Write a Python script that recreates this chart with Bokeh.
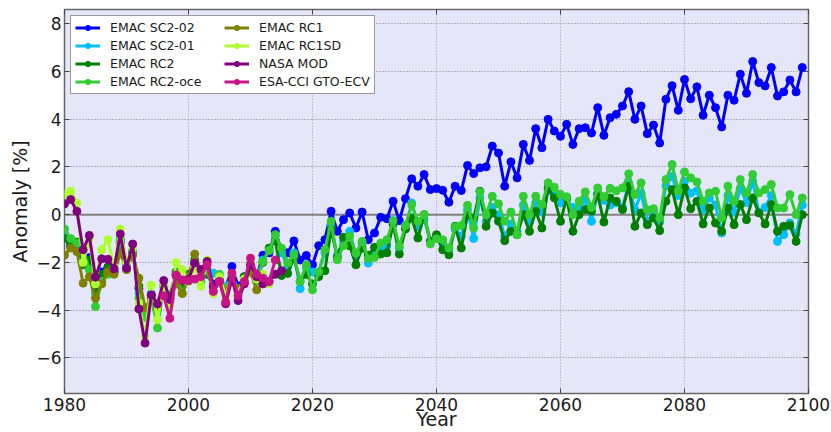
from bokeh.plotting import figure
from bokeh.models import (Legend, LegendItem, Span, LinearAxis, FixedTicker,
                          Range1d, ColumnDataSource)
from bokeh.embed import file_html
from bokeh.resources import INLINE

# ---------------- data ----------------
years = list(range(1980, 2100))

sc2_02 = [-0.9, -1.3, -1.3, -2.0, -1.8, -3.0, -2.4, -2.2, -2.4, -1.1,
          -2.0, -1.5, -3.1, -4.1, -3.4, -3.8, -3.0, -3.5, -2.5, -2.8,
          -2.6, -2.0, -2.5, -2.4, -2.9, -2.6, -3.1, -2.17, -3.0, -2.6,
          -2.3, -2.6, -1.7, -1.6, -0.7, -1.5, -1.6, -1.1, -1.9, -1.71,
          -2.10, -1.30, -1.05, 0.14, -0.70, -0.21, 0.07, -0.56, 0.11, -1.05,
          -0.77, -0.11, -0.17, 0.56, -0.25, 0.67, 1.50, 1.19, 1.68, 1.05,
          1.09, 1.02, 0.52, 1.19, 1.01, 2.06, 1.72, 1.96, 2.00, 2.87,
          2.58, 1.19, 2.21, 1.54, 2.94, 2.27, 3.60, 2.80, 3.99, 3.50,
          3.28, 3.78, 2.94, 3.60, 3.64, 3.42, 4.48, 3.32, 4.06, 4.20,
          4.55, 5.15, 3.99, 4.55, 3.39, 3.75, 3.00, 4.83, 5.40, 4.37,
          5.66, 4.85, 5.35, 4.16, 5.00, 4.48, 3.67, 5.00, 4.79, 5.88,
          5.08, 6.41, 5.53, 5.39, 6.16, 4.97, 5.14, 5.64, 5.14, 6.16]

sc2_01 = [-0.8, -1.2, -1.2, -2.0, -2.0, -3.3, -2.6, -2.3, -2.4, -1.1,
          -2.1, -1.5, -3.3, -4.3, -3.3, -4.0, -3.0, -3.6, -2.4, -3.0,
          -2.6, -2.0, -2.6, -2.3, -2.45, -2.7, -3.0, -2.6, -3.1, -2.7,
          -2.3, -2.6, -1.9, -1.5, -0.9, -1.6, -2.2, -1.6, -3.1, -2.2,
          -2.4, -2.4, -1.6, -0.5, -1.7, -1.1, -0.7, -1.7, -1.2, -2.03,
          -1.7, -1.4, -1.3, -0.4, -1.4, -0.5, 0.49, -0.5, -0.2, -1.1,
          -0.9, -1.2, -1.5, -0.6, -0.9, 0.2, -1.0, 0.7, -0.3, 0.3,
          0.0, -0.9, -0.4, -0.7, 0.4, -0.3, 0.5, 0.1, 1.0, 0.8,
          0.5, 0.6, 0.3, 0.3, 0.6, -0.28, 0.9, 0.6, 0.4, 0.5,
          0.3, 1.3, 0.2, 0.9, -0.3, 0.1, -0.3, 1.2, 1.6, 0.8,
          1.4, 0.9, 1.0, 0.2, 0.7, 0.4, -0.77, 0.8, 0.1, 1.1,
          0.5, 1.4, 0.1, 0.3, 0.8, -1.12, -0.84, -0.35, -0.8, 0.4]

rc2 = [-1.0, -1.26, -1.15, -2.1, -1.9, -3.1, -2.5, -2.2, -2.4, -1.2,
       -2.0, -1.6, -3.0, -4.2, -3.4, -3.9, -3.0, -3.4, -2.4, -2.9,
       -2.5, -1.9, -2.4, -2.5, -3.0, -2.6, -3.2, -2.7, -3.2, -2.6,
       -2.4, -2.7, -2.0, -1.4, -1.1, -2.55, -2.46, -1.8, -2.8, -2.5,
       -2.9, -2.6, -2.35, -0.6, -1.8, -0.95, -1.3, -2.1, -1.4, -1.7,
       -1.37, -1.65, -1.6, -0.4, -1.65, -0.6, -0.14, -0.98, 0.0, -1.12,
       -0.84, -1.47, -1.68, -0.49, -1.40, 0.0, -0.14, 0.98, -0.49, 0.07,
       -0.28, -1.09, -0.70, -0.84, 0.0, -0.70, 0.14, -0.56, 1.12, 0.70,
       -0.28, 0.70, -0.70, 0.0, 0.21, 0.14, 0.84, -0.31, 0.70, 0.56,
       0.21, 1.19, -0.49, 0.07, -0.42, -0.14, -0.67, 0.56, 1.05, 0.0,
       1.12, 0.25, 0.56, -0.39, 0.28, -0.35, -0.70, 0.28, -0.42, 0.42,
       -0.21, 0.70, 0.07, -0.39, 0.42, -0.70, -0.49, -0.45, -1.12, 0.0]

rc2_oce = [-0.6, -1.0, -1.2, -1.5, -2.3, -3.85, -2.8, -2.5, -2.3, -1.0,
           -2.3, -1.5, -3.5, -4.3, -3.5, -4.75, -3.0, -3.7, -2.5, -3.3,
           -2.6, -2.0, -2.8, -2.3, -3.2, -2.5, -3.1, -2.8, -3.3, -2.7,
           -2.2, -2.8, -1.96, -1.5, -0.84, -1.4, -2.03, -1.68, -2.8, -2.1,
           -3.15, -2.4, -1.47, -0.28, -1.89, -1.3, -0.91, -1.61, -1.12, -1.85,
           -1.79, -1.19, -1.05, -0.25, -1.33, -0.45, 0.42, -0.28, 0.0, -1.23,
           -1.01, -1.05, -1.40, -0.52, -0.45, 0.39, -0.56, 0.95, 0.0, 0.77,
           0.45, -0.28, 0.11, -0.84, 0.77, 0.0, 0.77, 0.42, 1.33, 1.15,
           0.85, 0.75, 0.0, 0.56, 0.95, 0.3, 1.12, 0.75, 1.1, 1.0,
           1.12, 1.71, 0.84, 1.33, 0.2, 0.25, -0.15, 1.47, 2.10, 1.0,
           1.79, 1.54, 1.37, 0.56, 0.91, 0.98, -0.14, 1.19, 0.56, 1.47,
           0.91, 1.68, 0.91, 1.05, 1.26, 0.28, 0.28, 0.84, 0.0, 0.70]

rc1_years = list(range(1980, 2012))
rc1 = [-1.7, -1.4, -1.55, -2.87, -2.6, -3.5, -2.9, -2.4, -2.5, -1.6,
       -2.3, -1.7, -2.66, -3.9, -3.5, -3.9, -3.3, -3.5, -2.9, -3.3,
       -2.6, -1.65, -2.4, -2.0, -3.0, -2.7, -3.2, -2.7, -3.1, -2.8,
       -2.4, -3.15]

rc1sd_years = list(range(1980, 2014))
rc1sd = [0.84, 0.99, 0.49, -2.0, -1.0, -2.9, -1.47, -1.05, -2.2, -0.6,
         -2.0, -1.4, -3.7, -5.1, -2.95, -4.4, -3.0, -3.8, -2.0, -2.3,
         -2.8, -2.2, -3.0, -1.9, -3.3, -2.6, -3.4, -2.6, -3.3, -2.7,
         -2.0, -2.7, -2.5, -2.9]

nasa_years = list(range(1980, 2016))
nasa = [0.45, 0.63, 0.14, -1.47, -0.87, -2.62, -1.85, -1.87, -2.27, -0.81,
        -2.24, -1.23, -3.95, -5.38, -3.36, -3.74, -2.76, -3.55, -2.55, -2.75,
        -2.7, -2.03, -2.3, -1.96, -3.0, -2.8, -3.73, -2.7, -3.6, -2.9,
        -2.1, -2.6, -2.9, -2.8, -2.5, -2.35]

esa_years = list(range(1996, 2015))
esa = [-3.4, -4.34, -2.52, -2.73, -2.77, -2.7, -2.6, -2.1, -3.22, -2.8,
       -3.66, -2.45, -3.4, -2.8, -1.82, -2.5, -2.66, -2.8, -1.9]

series = [
    ("EMAC SC2-02", years, sc2_02, "#0000ff"),
    ("EMAC SC2-01", years, sc2_01, "#00bfff"),
    ("EMAC RC2", years, rc2, "#007f00"),
    ("EMAC RC2-oce", years, rc2_oce, "#32cd32"),
    ("EMAC RC1", rc1_years, rc1, "#808000"),
    ("EMAC RC1SD", rc1sd_years, rc1sd, "#adff2f"),
    ("NASA MOD", nasa_years, nasa, "#800080"),
    ("ESA-CCI GTO-ECV", esa_years, esa, "#c71585"),
]

x_ticks = [1980, 2000, 2020, 2040, 2060, 2080, 2100]
y_ticks = [-6, -4, -2, 0, 2, 4, 6, 8]

# ---------------- figure ----------------
FONT = "DejaVu Sans"
TXT = "#1a1a1a"

p = figure(width=831, height=432, x_range=Range1d(1980, 2100),
           y_range=Range1d(-7.49, 8.59), output_backend="svg",
           toolbar_location=None)
p.background_fill_color = "#e6e6fa"
p.border_fill_color = "white"
p.min_border_left = 64
p.min_border_right = 23
p.min_border_top = 9
p.min_border_bottom = 39
p.outline_line_color = "#666666"
p.outline_line_width = 1.5

for ax in (p.xaxis[0], p.yaxis[0]):
    ax.axis_line_color = None
    ax.major_tick_in = 5
    ax.major_tick_out = 0
    ax.minor_tick_line_color = None
    ax.major_tick_line_color = "#444444"
    ax.major_label_text_font = FONT
    ax.major_label_text_font_size = "17px"
    ax.major_label_text_color = TXT
    ax.axis_label_text_font = FONT
    ax.axis_label_text_font_size = "19px"
    ax.axis_label_text_font_style = "normal"
    ax.axis_label_text_color = TXT

p.xaxis.ticker = FixedTicker(ticks=x_ticks)
p.yaxis.ticker = FixedTicker(ticks=y_ticks)
p.xaxis.axis_label = "Year"
p.yaxis.axis_label = "Anomaly [%]"
p.xaxis.major_label_standoff = 4
p.xaxis.axis_label_standoff = -6
p.yaxis.major_label_standoff = 3
p.yaxis.axis_label_standoff = 2
p.yaxis.major_label_overrides = {t: (("\u2212" + str(-t)) if t < 0 else str(t)) for t in y_ticks}

for side, tk in (("right", y_ticks), ("above", x_ticks)):
    a = LinearAxis(ticker=FixedTicker(ticks=tk), axis_line_color=None,
                   major_tick_in=5, major_tick_out=0,
                   minor_tick_line_color=None, major_tick_line_color="#444444",
                   major_label_text_font_size="1px", major_label_text_color=None,
                   major_label_standoff=0)
    p.add_layout(a, side)

p.xgrid.ticker = FixedTicker(ticks=x_ticks)
p.ygrid.ticker = FixedTicker(ticks=y_ticks)
p.xgrid.grid_line_color = "#9a9aa6"
p.ygrid.grid_line_color = "#7a7a84"
p.xgrid.grid_line_dash = "1 2"
p.ygrid.grid_line_dash = "1 2"

zero = Span(location=0, dimension="width", line_color="#808080",
            line_width=2, level="underlay")
p.add_layout(zero)

items = []
for name, xs, ys, col in series:
    src = ColumnDataSource(dict(x=xs, y=ys))
    lr = p.line("x", "y", source=src, line_color=col, line_width=3)
    sr = p.scatter("x", "y", source=src, size=8, fill_color=col,
                   line_color=col)
    items.append(LegendItem(label=name, renderers=[lr, sr]))

legend = Legend(items=items, location="top_left", ncols=2)
legend.label_text_font = FONT
legend.label_text_font_size = "12.5px"
legend.label_text_color = TXT
legend.glyph_width = 25
legend.glyph_height = 13
legend.label_height = 13
legend.label_width = 111
legend.label_standoff = 10
legend.padding = 4
legend.spacing = 3
legend.margin = 6
legend.border_line_color = "#333333"
legend.border_line_width = 1.2
legend.background_fill_color = "white"
legend.background_fill_alpha = 1.0
p.add_layout(legend)

open("out.html", "w").write(file_html(p, INLINE))
